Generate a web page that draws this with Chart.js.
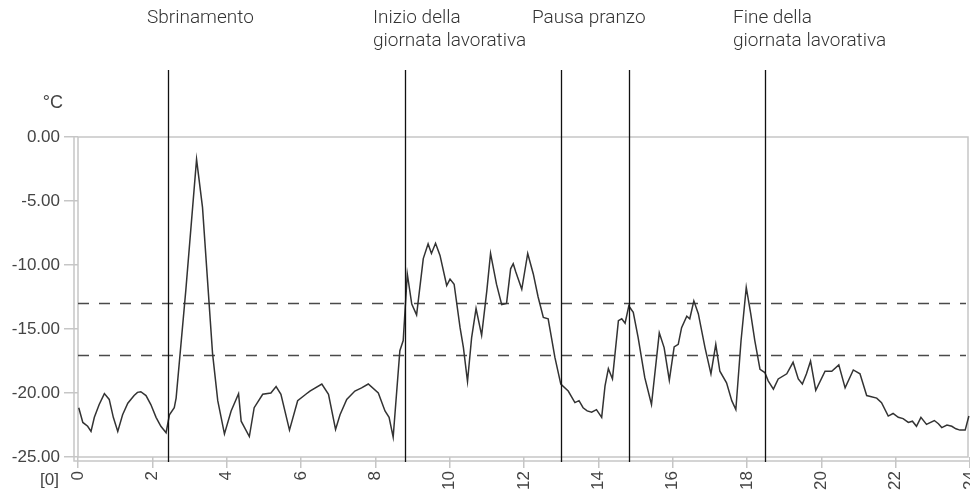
<!DOCTYPE html>
<html>
<head>
<meta charset="utf-8">
<script src="https://cdn.jsdelivr.net/npm/chart.js@4.4.0/dist/chart.umd.min.js"></script>
<style>
  html, body { margin: 0; padding: 0; background: #fff; }
  #wrap { width: 970px; height: 492px; position: relative; }
</style>
</head>
<body>
<div id="wrap"><canvas id="tempChart"></canvas></div>
<script>
// hours of the day and temperature in ºC
const hours = [
  0.02, 0.13, 0.26, 0.35, 0.44, 0.57, 0.71, 0.84, 0.95, 1.07, 1.2, 1.34, 1.51, 1.6, 1.69, 1.83, 1.96, 2.1, 2.23, 2.37,
  2.46, 2.59, 2.64, 2.9, 3.19, 3.35, 3.62, 3.76, 3.94, 4.12, 4.32, 4.39, 4.61, 4.74, 4.97, 5.19, 5.33, 5.46, 5.69, 5.91,
  6.13, 6.24, 6.56, 6.74, 6.93, 7.05, 7.23, 7.45, 7.63, 7.81, 8.08, 8.26, 8.37, 8.48, 8.66, 8.75, 8.86, 8.98, 9.11, 9.29,
  9.42, 9.51, 9.62, 9.74, 9.92, 10.01, 10.12, 10.28, 10.37, 10.48, 10.59, 10.71, 10.86, 11.0, 11.1, 11.26, 11.4, 11.53, 11.64, 11.71,
  11.78, 11.94, 12.1, 12.25, 12.38, 12.52, 12.65, 12.74, 12.83, 12.99, 13.19, 13.37, 13.48, 13.59, 13.7, 13.82, 13.95, 14.09, 14.18, 14.27,
  14.38, 14.54, 14.63, 14.72, 14.82, 14.94, 15.07, 15.25, 15.43, 15.64, 15.77, 15.91, 16.04, 16.15, 16.24, 16.38, 16.46, 16.57, 16.69, 16.87,
  17.03, 17.16, 17.27, 17.45, 17.59, 17.7, 17.84, 17.98, 18.1, 18.21, 18.35, 18.48, 18.57, 18.71, 18.84, 19.07, 19.24, 19.38, 19.49, 19.6,
  19.71, 19.85, 20.1, 20.28, 20.47, 20.64, 20.86, 21.04, 21.22, 21.49, 21.62, 21.8, 21.93, 22.07, 22.2, 22.34, 22.45, 22.56, 22.68, 22.83,
  23.04, 23.15, 23.24, 23.38, 23.51, 23.62, 23.73, 23.87, 23.97
];
const temps = [
  -21.15, -22.3, -22.6, -23.0, -21.9, -20.9, -20.05, -20.5, -21.9, -23.0, -21.7, -20.8, -20.2, -19.95, -19.9, -20.2, -20.9, -21.9, -22.6, -23.1,
  -21.7, -21.15, -20.4, -12.0, -1.75, -5.5, -16.9, -20.6, -23.2, -21.4, -20.05, -22.2, -23.4, -21.15, -20.1, -20.0, -19.5, -20.1, -22.9, -20.6,
  -20.1, -19.85, -19.3, -20.1, -22.85, -21.7, -20.5, -19.85, -19.6, -19.3, -20.0, -21.4, -21.9, -23.45, -16.7, -15.9, -10.7, -13.05, -13.9, -9.5,
  -8.35, -9.1, -8.3, -9.25, -11.6, -11.1, -11.5, -14.9, -16.45, -19.1, -15.7, -13.4, -15.5, -12.0, -9.1, -11.5, -13.1, -13.0, -10.3, -9.9,
  -10.55, -11.9, -9.1, -10.7, -12.5, -14.1, -14.2, -15.7, -17.2, -19.3, -19.85, -20.75, -20.6, -21.15, -21.4, -21.5, -21.3, -21.9, -19.45, -18.1,
  -18.9, -14.35, -14.2, -14.55, -13.2, -13.7, -15.65, -18.8, -20.9, -15.3, -16.45, -19.0, -16.4, -16.2, -14.9, -14.0, -14.2, -12.8, -13.8, -16.45,
  -18.5, -16.2, -18.3, -19.2, -20.6, -21.3, -15.9, -11.75, -13.8, -15.9, -18.15, -18.4, -19.05, -19.7, -18.9, -18.5, -17.6, -18.9, -19.3, -18.5,
  -17.5, -19.8, -18.3, -18.3, -17.8, -19.6, -18.2, -18.5, -20.2, -20.4, -20.75, -21.8, -21.6, -21.9, -22.0, -22.3, -22.2, -22.6, -21.9, -22.45,
  -22.15, -22.4, -22.7, -22.5, -22.6, -22.8, -22.9, -22.9, -21.8
];

// events marked on the trace (hour of day)
const eventHours = [2.42, 8.8, 13.0, 14.82, 18.48];
// limit band, dashed
const limitTemps = [-13, -17];
// notes printed above the chart
const noteLines = [
  ['Sbrinamento'],
  ['Inizio della', 'giornata lavorativa'],
  ['Pausa pranzo'],
  ['Fine della', 'giornata lavorativa']
];

const points = hours.map((h, i) => ({ x: h, y: temps[i] }));

const frameLines = {
  id: 'frameLines',
  beforeDatasetsDraw(chart) {
    const { ctx, chartArea: a } = chart;
    ctx.save();
    ctx.strokeStyle = '#c6c6c6';
    ctx.lineWidth = 1.5;
    ctx.beginPath();
    // plot frame
    ctx.moveTo(a.left, a.bottom);
    ctx.lineTo(a.left, a.top);
    ctx.lineTo(a.right - 2, a.top);
    ctx.lineTo(a.right - 2, a.bottom);
    ctx.lineTo(a.left, a.bottom);
    // outer axis lines
    ctx.moveTo(a.left - 4, a.top);
    ctx.lineTo(a.left - 4, a.bottom + 4);
    ctx.lineTo(a.right, a.bottom + 4);
    ctx.stroke();

    // limit lines
    const y = chart.scales.y;
    ctx.strokeStyle = '#4a4a4a';
    ctx.lineWidth = 1.3;
    ctx.setLineDash([11, 10]);
    limitTemps.forEach((t) => {
      const py = Math.round(y.getPixelForValue(t)) + 0.5;
      ctx.beginPath();
      ctx.moveTo(a.left, py);
      ctx.lineTo(a.right - 4, py);
      ctx.stroke();
    });
    ctx.restore();
  },
  afterDraw(chart) {
    const { ctx, chartArea: a } = chart;
    const x = chart.scales.x;
    ctx.save();
    ctx.strokeStyle = '#111';
    ctx.lineWidth = 1.3;
    eventHours.forEach((h) => {
      const px = Math.round(x.getPixelForValue(h)) + 0.5;
      ctx.beginPath();
      ctx.moveTo(px, 70);
      ctx.lineTo(px, a.bottom + 5);
      ctx.stroke();
    });

    // notes
    ctx.fillStyle = '#333';
    ctx.font = '300 19px Roboto';
    ctx.textBaseline = 'middle';
    ctx.textAlign = 'left';
    const noteLeft = [147, 373, 532, 733];
    noteLines.forEach((lines, i) => {
      lines.forEach((txt, j) => ctx.fillText(txt, noteLeft[i], 18 + j * 23));
    });

    // unit and origin marker
    ctx.fillStyle = '#444';
    ctx.font = '18px "Liberation Sans"';
    ctx.textAlign = 'right';
    ctx.fillText('°C', 63, 103);
    ctx.font = '17px "Liberation Sans"';
    ctx.fillText('[0]', 59, 480);
    ctx.restore();
  }
};

new Chart(document.getElementById('tempChart'), {
  type: 'line',
  data: {
    datasets: [{
      data: points,
      borderColor: '#333',
      borderWidth: 1.5,
      pointRadius: 0,
      tension: 0,
      fill: false
    }]
  },
  options: {
    responsive: true,
    maintainAspectRatio: false,
    animation: false,
    events: [],
    layout: { padding: { top: 137, right: 0, left: 0, bottom: 0 } },
    plugins: { legend: { display: false }, tooltip: { enabled: false } },
    scales: {
      x: {
        type: 'linear',
        min: 0,
        max: 24,
        border: { display: false },
        grid: { drawOnChartArea: false, drawTicks: true, tickLength: 11, color: '#c6c6c6', lineWidth: 1.5 },
        ticks: {
          stepSize: 2,
          autoSkip: false,
          minRotation: 90,
          maxRotation: 90,
          padding: 3,
          color: '#444',
          font: { family: 'Liberation Sans', size: 17 }
        },
        afterFit(scale) {
          scale.height = 35;
          scale.paddingLeft = 0;
          scale.paddingRight = 0;
        }
      },
      y: {
        min: -25,
        max: 0,
        border: { display: false },
        grid: { drawOnChartArea: false, drawTicks: true, tickLength: 14, color: '#c6c6c6', lineWidth: 1.5 },
        ticks: {
          stepSize: 5,
          padding: 4,
          color: '#444',
          font: { family: 'Liberation Sans', size: 17 },
          callback: (v) => v.toFixed(2)
        },
        afterFit(scale) {
          scale.width = 78;
          scale.paddingTop = 0;
          scale.paddingBottom = 0;
        }
      }
    }
  },
  plugins: [frameLines]
});
</script>
</body>
</html>
